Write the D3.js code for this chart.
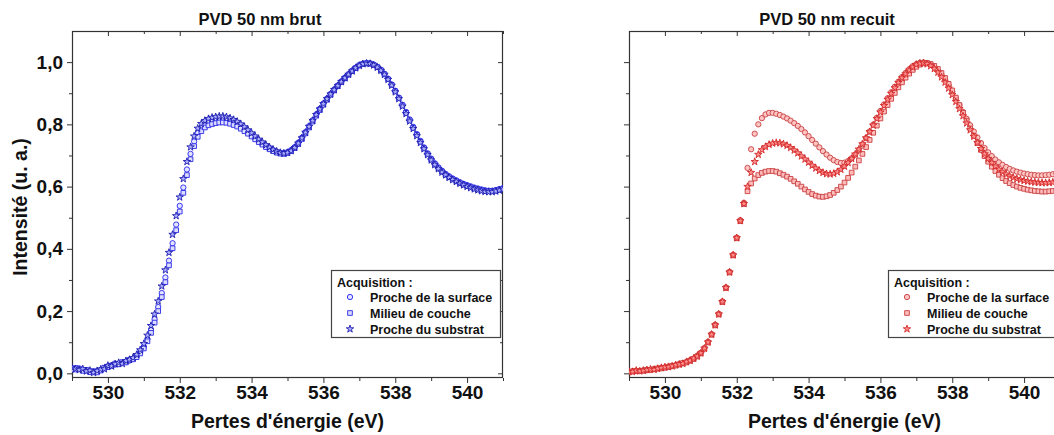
<!DOCTYPE html>
<html>
<head>
<meta charset="utf-8">
<script src="https://cdn.jsdelivr.net/npm/d3@7"></script>
<style>
  html, body { margin: 0; padding: 0; background: #fff; }
  svg { display: block; }
  text { font-family: Arial, 'Liberation Sans', sans-serif; }
</style>
</head>
<body>
<svg id="chart" width="1054" height="435"></svg>
<script>
// ---------- DATA ----------
const energy = [
  529.0,529.1,529.2,529.3,529.4,529.5,529.6,529.7,529.8,529.9,
  530.0,530.1,530.2,530.3,530.4,530.5,530.6,530.7,530.8,530.9,
  531.0,531.1,531.2,531.3,531.4,531.5,531.6,531.7,531.8,531.9,
  532.0,532.1,532.2,532.3,532.4,532.5,532.6,532.7,532.8,532.9,
  533.0,533.1,533.2,533.3,533.4,533.5,533.6,533.7,533.8,533.9,
  534.0,534.1,534.2,534.3,534.4,534.5,534.6,534.7,534.8,534.9,
  535.0,535.1,535.2,535.3,535.4,535.5,535.6,535.7,535.8,535.9,
  536.0,536.1,536.2,536.3,536.4,536.5,536.6,536.7,536.8,536.9,
  537.0,537.1,537.2,537.3,537.4,537.5,537.6,537.7,537.8,537.9,
  538.0,538.1,538.2,538.3,538.4,538.5,538.6,538.7,538.8,538.9,
  539.0,539.1,539.2,539.3,539.4,539.5,539.6,539.7,539.8,539.9,
  540.0,540.1,540.2,540.3,540.4,540.5,540.6,540.7,540.8,540.9,
  541.0
];

// PVD 50 nm brut
const brutSurface = [
  0.015,0.013,0.016,0.011,0.009,0.006,0.004,0.006,0.011,0.016,
  0.022,0.026,0.028,0.031,0.033,0.037,0.041,0.047,0.056,0.069,
  0.086,0.110,0.139,0.174,0.213,0.258,0.308,0.362,0.418,0.478,
  0.538,0.597,0.655,0.705,0.745,0.772,0.788,0.798,0.805,0.809,
  0.811,0.813,0.814,0.812,0.809,0.804,0.799,0.792,0.784,0.775,
  0.766,0.757,0.748,0.739,0.731,0.724,0.717,0.712,0.709,0.708,
  0.711,0.717,0.727,0.741,0.757,0.775,0.794,0.813,0.832,0.850,
  0.867,0.883,0.898,0.912,0.925,0.938,0.950,0.961,0.972,0.982,
  0.990,0.995,0.997,0.996,0.992,0.985,0.975,0.962,0.946,0.928,
  0.908,0.886,0.863,0.840,0.816,0.792,0.769,0.747,0.726,0.707,
  0.690,0.675,0.662,0.651,0.641,0.633,0.626,0.620,0.614,0.609,
  0.605,0.601,0.597,0.594,0.591,0.588,0.587,0.587,0.589,0.592,
  0.595
];
const brutMilieu = [
  0.012,0.017,0.013,0.008,0.011,0.004,0.007,0.003,0.009,0.018,
  0.020,0.024,0.031,0.029,0.036,0.035,0.043,0.045,0.052,0.064,
  0.080,0.103,0.130,0.163,0.200,0.245,0.293,0.347,0.402,0.460,
  0.520,0.580,0.637,0.688,0.730,0.760,0.778,0.790,0.797,0.801,
  0.804,0.806,0.806,0.805,0.802,0.798,0.793,0.786,0.778,0.770,
  0.761,0.752,0.743,0.735,0.727,0.720,0.714,0.709,0.706,0.705,
  0.708,0.714,0.724,0.737,0.753,0.771,0.790,0.809,0.828,0.846,
  0.863,0.879,0.895,0.909,0.923,0.936,0.948,0.960,0.971,0.981,
  0.989,0.994,0.996,0.995,0.991,0.984,0.974,0.961,0.945,0.927,
  0.906,0.884,0.861,0.837,0.813,0.789,0.766,0.744,0.723,0.704,
  0.687,0.672,0.659,0.648,0.638,0.630,0.623,0.617,0.611,0.606,
  0.602,0.598,0.594,0.591,0.588,0.586,0.585,0.585,0.587,0.590,
  0.593
];
const brutSubstrat = [
  0.018,0.014,0.011,0.014,0.007,0.009,0.002,0.008,0.013,0.014,
  0.025,0.023,0.030,0.034,0.031,0.040,0.044,0.050,0.060,0.075,
  0.095,0.122,0.153,0.190,0.232,0.280,0.332,0.388,0.446,0.506,
  0.566,0.625,0.680,0.727,0.762,0.787,0.802,0.812,0.818,0.822,
  0.824,0.826,0.826,0.824,0.820,0.815,0.809,0.801,0.792,0.782,
  0.772,0.762,0.752,0.743,0.734,0.726,0.719,0.713,0.709,0.707,
  0.709,0.715,0.725,0.739,0.756,0.774,0.793,0.812,0.831,0.849,
  0.866,0.882,0.897,0.911,0.924,0.937,0.949,0.960,0.971,0.981,
  0.989,0.994,0.996,0.995,0.990,0.983,0.973,0.960,0.944,0.925,
  0.904,0.882,0.858,0.834,0.810,0.786,0.763,0.741,0.721,0.702,
  0.685,0.670,0.657,0.646,0.637,0.629,0.622,0.616,0.610,0.605,
  0.600,0.596,0.592,0.589,0.586,0.584,0.583,0.583,0.585,0.588,
  0.591
];

// PVD 50 nm recuit
const recuitSurface = [
  0.005,0.007,0.008,0.007,0.010,0.010,0.012,0.014,0.015,0.017,
  0.019,0.022,0.023,0.026,0.030,0.032,0.036,0.042,0.047,0.056,
  0.066,0.081,0.101,0.126,0.156,0.191,0.231,0.276,0.326,0.381,
  0.436,0.492,0.548,0.660,0.720,0.770,0.800,0.820,0.832,0.837,
  0.837,0.834,0.830,0.825,0.819,0.812,0.804,0.795,0.785,0.774,
  0.762,0.750,0.738,0.726,0.714,0.703,0.693,0.685,0.679,0.676,
  0.677,0.682,0.691,0.703,0.718,0.736,0.756,0.777,0.799,0.821,
  0.843,0.864,0.884,0.903,0.921,0.937,0.952,0.965,0.977,0.987,
  0.994,0.998,0.999,0.997,0.992,0.984,0.973,0.959,0.943,0.925,
  0.905,0.884,0.862,0.840,0.818,0.797,0.777,0.758,0.740,0.724,
  0.710,0.698,0.687,0.678,0.670,0.663,0.657,0.652,0.648,0.645,
  0.642,0.640,0.638,0.637,0.636,0.636,0.637,0.638,0.640,0.642,
  0.644
];
const recuitMilieu = [
  0.004,0.006,0.007,0.008,0.008,0.011,0.011,0.013,0.016,0.016,
  0.018,0.020,0.024,0.025,0.028,0.033,0.035,0.040,0.046,0.054,
  0.064,0.079,0.099,0.124,0.154,0.189,0.229,0.274,0.324,0.379,
  0.434,0.489,0.544,0.585,0.610,0.626,0.637,0.644,0.648,0.650,
  0.650,0.648,0.643,0.638,0.632,0.625,0.617,0.609,0.600,0.591,
  0.583,0.576,0.571,0.568,0.567,0.569,0.573,0.580,0.589,0.600,
  0.613,0.628,0.645,0.664,0.684,0.705,0.727,0.750,0.773,0.796,
  0.819,0.841,0.862,0.882,0.901,0.919,0.935,0.950,0.963,0.975,
  0.985,0.992,0.996,0.997,0.994,0.988,0.978,0.965,0.949,0.930,
  0.909,0.886,0.862,0.837,0.812,0.787,0.763,0.740,0.718,0.698,
  0.680,0.664,0.650,0.638,0.627,0.618,0.611,0.605,0.600,0.596,
  0.593,0.590,0.588,0.586,0.585,0.584,0.584,0.585,0.586,0.588,
  0.590
];
const recuitSubstrat = [
  0.006,0.005,0.009,0.007,0.009,0.011,0.013,0.012,0.015,0.018,
  0.020,0.021,0.023,0.027,0.029,0.031,0.037,0.041,0.048,0.055,
  0.065,0.080,0.100,0.125,0.155,0.190,0.230,0.275,0.325,0.380,
  0.435,0.490,0.545,0.600,0.645,0.680,0.703,0.718,0.728,0.735,
  0.739,0.741,0.740,0.737,0.732,0.725,0.717,0.708,0.698,0.688,
  0.678,0.668,0.659,0.651,0.645,0.641,0.640,0.642,0.647,0.655,
  0.665,0.677,0.690,0.704,0.720,0.737,0.756,0.776,0.797,0.818,
  0.839,0.860,0.880,0.899,0.917,0.934,0.949,0.962,0.974,0.984,
  0.992,0.996,0.997,0.994,0.988,0.979,0.967,0.952,0.935,0.916,
  0.895,0.873,0.850,0.827,0.804,0.782,0.761,0.741,0.722,0.705,
  0.690,0.677,0.665,0.655,0.647,0.640,0.634,0.629,0.625,0.622,
  0.619,0.617,0.615,0.614,0.613,0.612,0.612,0.613,0.614,0.615,
  0.617
];

const seriesNames = ["Proche de la surface", "Milieu de couche", "Proche du substrat"];
const panelTitles = ["PVD 50 nm brut", "PVD 50 nm recuit"];
const xMajorTicks = [530, 532, 534, 536, 538, 540];
const xMinorTicks = [529, 531, 533, 535, 537, 539, 541];
const yMajorTicks = [0.0, 0.2, 0.4, 0.6, 0.8, 1.0];
const yMinorTicks = [0.1, 0.3, 0.5, 0.7, 0.9];
const xLabel = "Pertes d'énergie (eV)";
const yLabel = "Intensité (u. a.)";
const legendTitle = "Acquisition :";

// ---------- DRAW ----------
const svg = d3.select("#chart");
const FONT = "Arial, 'Liberation Sans', sans-serif";
const plotW = 431, plotTop = 31, plotBottom = 378;
const fmt = v => d3.format(".1f")(v).replace(".", ",");

const shapes = [d3.symbolCircle, d3.symbolSquare, d3.symbolStar];
const shapeSizes = [22, 22, 17];

const panels = [
  { left: 72, title: panelTitles[0], titleX: 260, yLabels: true,
    data: [brutSurface, brutMilieu, brutSubstrat],
    stroke: ["#2424f0", "#2a2ae6", "#1c1cb0"],
    fill: ["#e4e4ff", "#dcdcff", "#b0b0ff"] },
  { left: 629, title: panelTitles[1], titleX: 827, yLabels: false,
    data: [recuitSurface, recuitMilieu, recuitSubstrat],
    stroke: ["#c84040", "#c84040", "#d42828"],
    fill: ["#ffc4c4", "#ffbcbc", "#ff9090"] }
];

svg.append("defs").selectAll("clipPath").data(panels).join("clipPath")
  .attr("id", (d, i) => "clip" + i)
  .append("rect")
  .attr("x", d => d.left).attr("y", plotTop)
  .attr("width", plotW).attr("height", plotBottom - plotTop);

panels.forEach((p, pi) => {
  const x = d3.scaleLinear().domain([529, 541]).range([p.left, p.left + plotW]);
  const y = d3.scaleLinear().domain([-0.015, 1.1]).range([plotBottom, plotTop]);
  const g = svg.append("g");

  const styleAxis = sel => {
    sel.select(".domain").remove();
    sel.selectAll("line").attr("stroke", "#333").attr("stroke-width", 1);
    sel.selectAll("text").attr("font-family", FONT).attr("font-weight", "bold")
      .attr("font-size", 19).attr("fill", "#111");
  };
  g.append("g").attr("transform", `translate(0,${plotBottom})`)
    .call(d3.axisBottom(x).tickValues(xMajorTicks).tickSize(5).tickPadding(3).tickFormat(d3.format("d")))
    .call(styleAxis);
  g.append("g").attr("transform", `translate(0,${plotBottom})`)
    .call(d3.axisBottom(x).tickValues(xMinorTicks).tickSize(3).tickFormat(""))
    .call(styleAxis);
  g.append("g").attr("transform", `translate(0,${plotTop})`)
    .call(d3.axisTop(x).tickValues(xMajorTicks).tickSize(-5).tickFormat(""))
    .call(styleAxis);
  g.append("g").attr("transform", `translate(0,${plotTop})`)
    .call(d3.axisTop(x).tickValues(xMinorTicks).tickSize(-3).tickFormat(""))
    .call(styleAxis);
  g.append("g").attr("transform", `translate(${p.left},0)`)
    .call(d3.axisLeft(y).tickValues(yMajorTicks).tickSize(5).tickPadding(4)
      .tickFormat(p.yLabels ? fmt : ""))
    .call(styleAxis);
  g.append("g").attr("transform", `translate(${p.left},0)`)
    .call(d3.axisLeft(y).tickValues(yMinorTicks).tickSize(3).tickFormat(""))
    .call(styleAxis);
  g.append("g").attr("transform", `translate(${p.left + plotW},0)`)
    .call(d3.axisRight(y).tickValues(yMajorTicks).tickSize(-5).tickFormat(""))
    .call(styleAxis);
  g.append("g").attr("transform", `translate(${p.left + plotW},0)`)
    .call(d3.axisRight(y).tickValues(yMinorTicks).tickSize(-3).tickFormat(""))
    .call(styleAxis);

  g.append("rect").attr("x", p.left + 0.5).attr("y", plotTop + 0.5)
    .attr("width", plotW - 1).attr("height", plotBottom - plotTop - 1)
    .attr("fill", "none").attr("stroke", "#333").attr("stroke-width", 1.2);

  const pts = g.append("g").attr("clip-path", `url(#clip${pi})`);
  p.data.forEach((vals, si) => {
    const sym = d3.symbol().type(shapes[si]).size(shapeSizes[si]);
    pts.append("g").selectAll("path")
      .data(vals.map((v, i) => [energy[i], v]))
      .join("path")
      .attr("d", sym)
      .attr("transform", d => `translate(${x(d[0])},${y(d[1])})`)
      .attr("fill", p.fill[si])
      .attr("stroke", p.stroke[si])
      .attr("stroke-width", 0.9);
  });

  g.append("text").attr("x", p.titleX).attr("y", 25)
    .attr("text-anchor", "middle").attr("font-family", FONT)
    .attr("font-weight", "bold").attr("font-size", 16.5).attr("fill", "#111")
    .text(p.title);

  g.append("text").attr("x", p.left + plotW / 2).attr("y", 428)
    .attr("text-anchor", "middle").attr("font-family", FONT)
    .attr("font-weight", "bold").attr("font-size", 19.5).attr("fill", "#111")
    .text(xLabel);

  const lx = p.left + 259, ly = 270;
  const lg = g.append("g");
  lg.append("rect").attr("x", lx + 0.5).attr("y", ly + 0.5)
    .attr("width", 169).attr("height", 67)
    .attr("fill", "#fff").attr("stroke", "#444").attr("stroke-width", 1.2);
  lg.append("text").attr("x", lx + 6).attr("y", ly + 17)
    .attr("font-family", FONT).attr("font-weight", "bold").attr("font-size", 12.5)
    .attr("fill", "#111").text(legendTitle);
  seriesNames.forEach((name, si) => {
    const ry = ly + 27 + si * 16;
    lg.append("path")
      .attr("d", d3.symbol().type(shapes[si]).size(shapeSizes[si])())
      .attr("transform", `translate(${lx + 19},${ry})`)
      .attr("fill", p.fill[si]).attr("stroke", p.stroke[si]).attr("stroke-width", 0.9);
    lg.append("text").attr("x", lx + 39).attr("y", ry + 4.5)
      .attr("font-family", FONT).attr("font-weight", "bold").attr("font-size", 12.5)
      .attr("fill", "#111").text(name);
  });
});

svg.append("text")
  .attr("transform", "translate(27,207) rotate(-90)")
  .attr("text-anchor", "middle").attr("font-family", FONT)
  .attr("font-weight", "bold").attr("font-size", 19.5).attr("fill", "#111")
  .text(yLabel);
</script>
</body>
</html>
